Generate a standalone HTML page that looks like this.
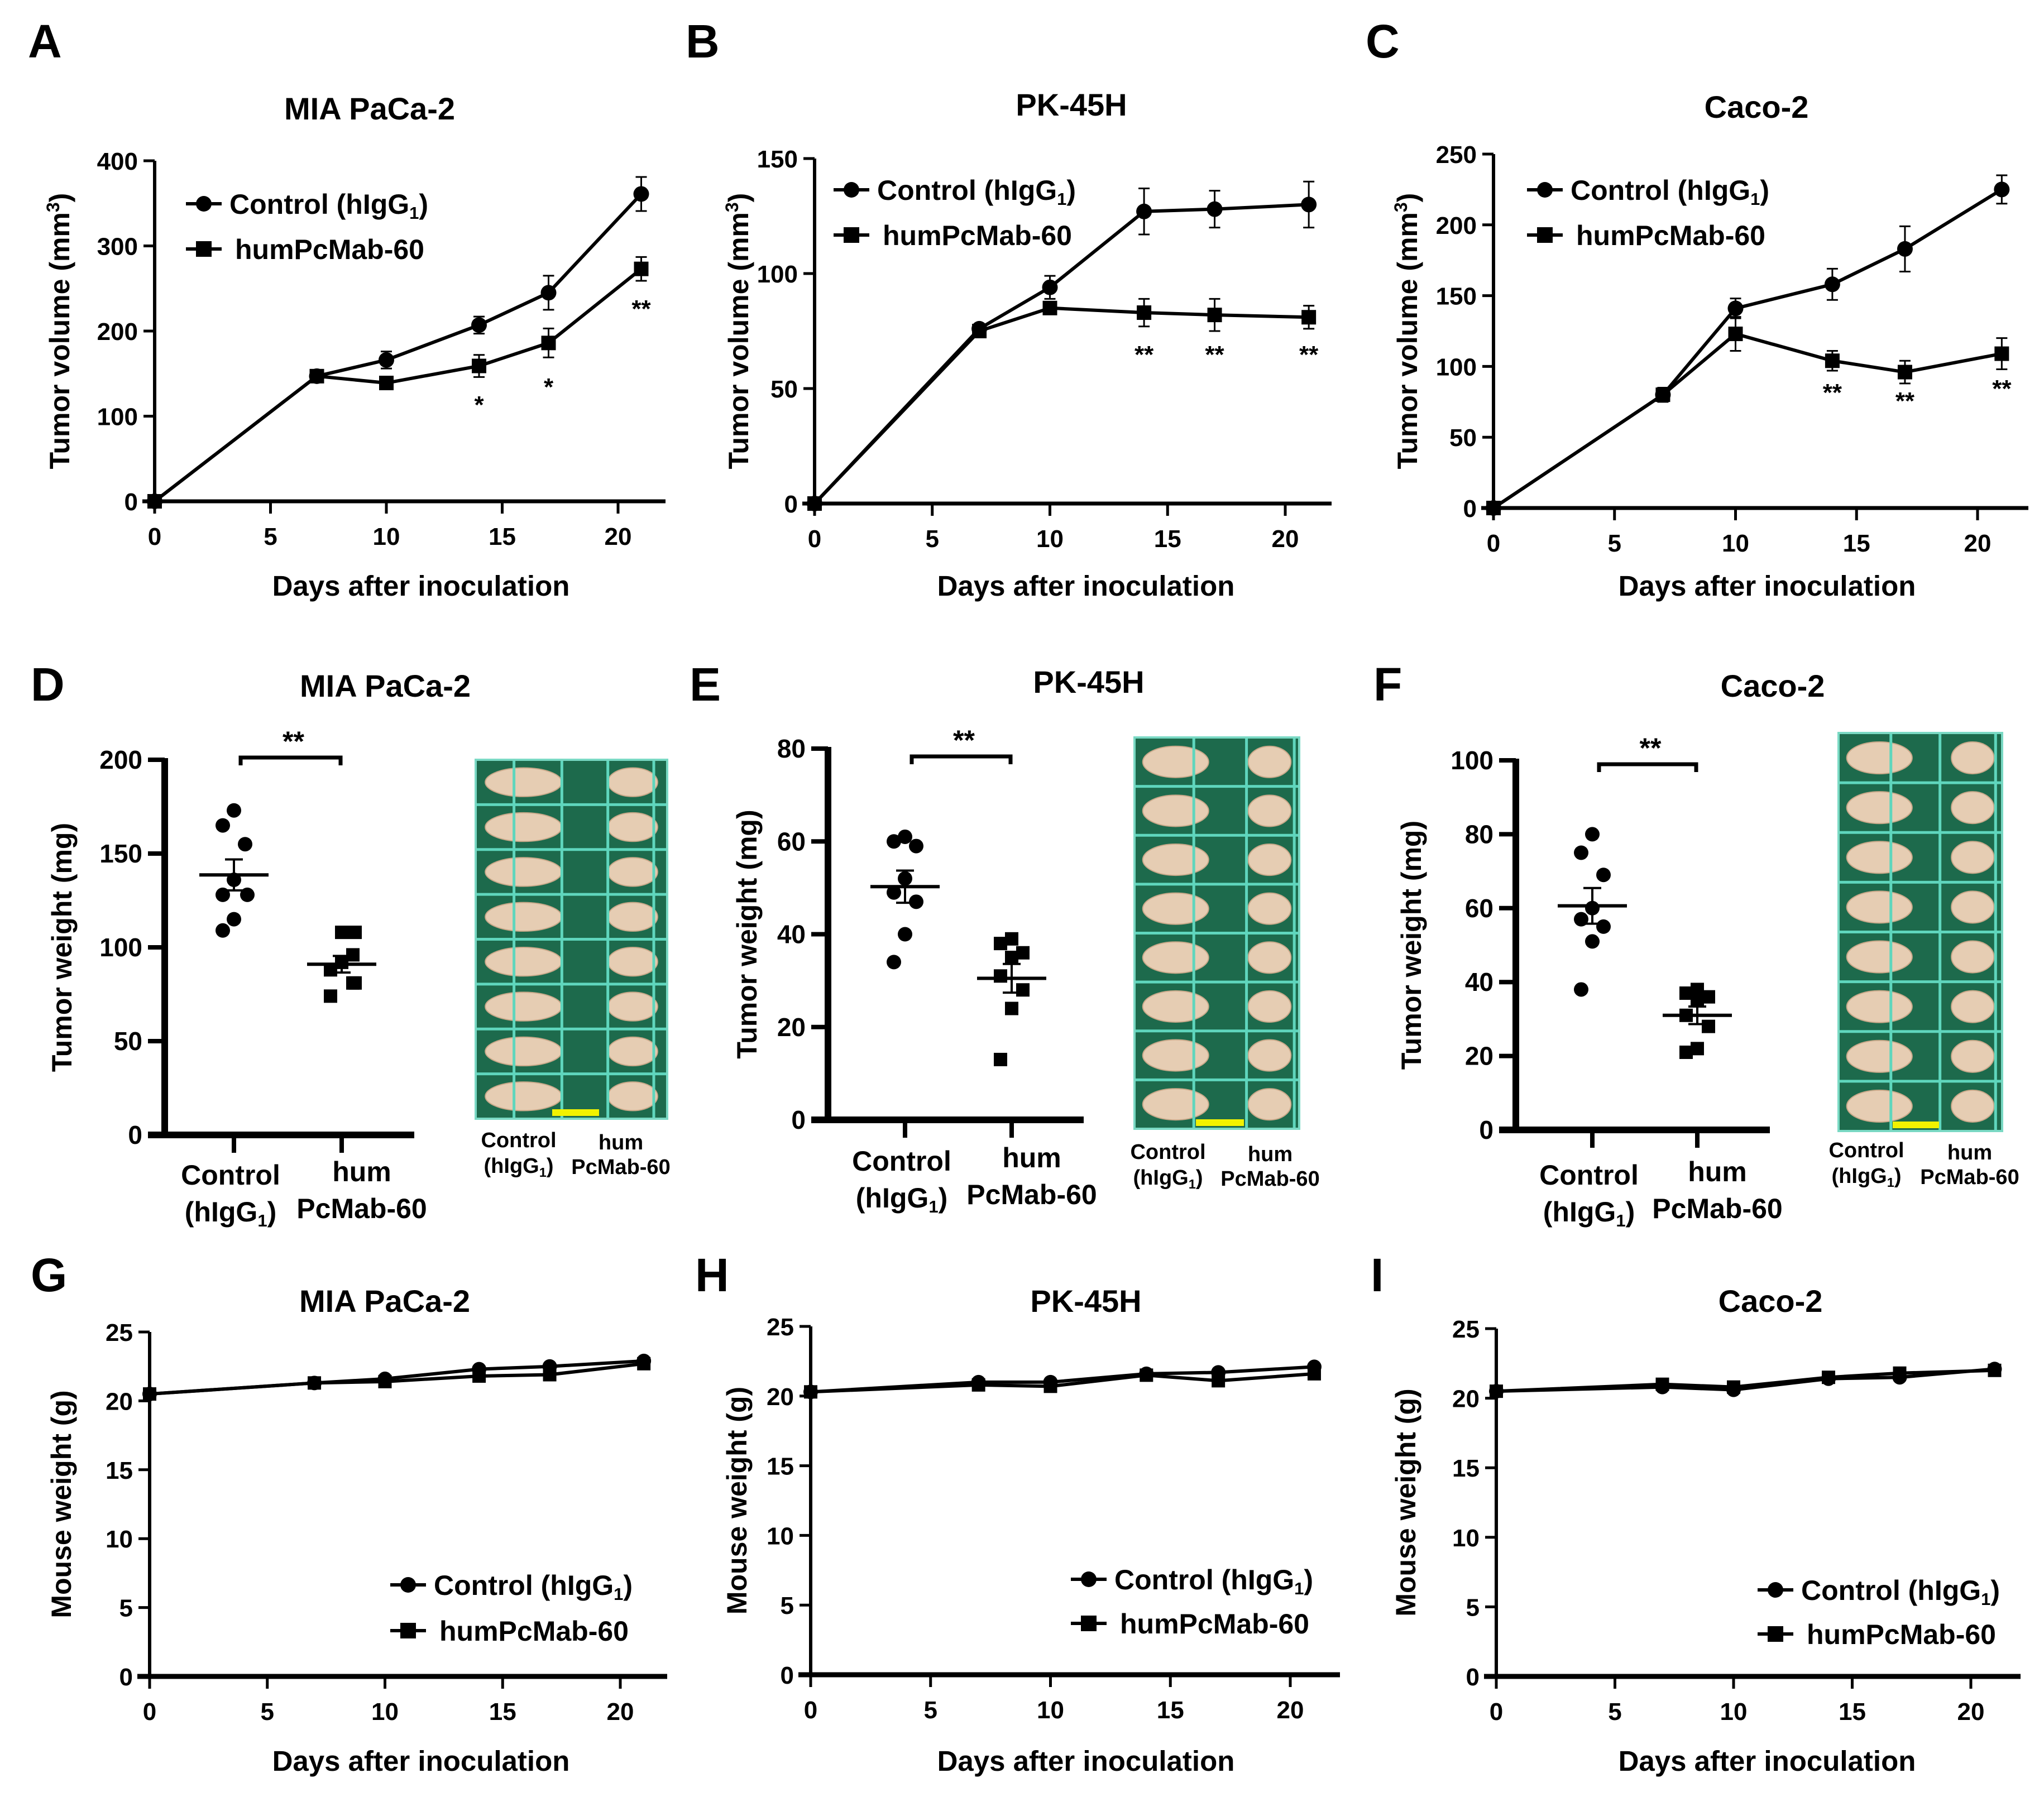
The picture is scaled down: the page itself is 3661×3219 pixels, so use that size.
<!DOCTYPE html>
<html><head><meta charset="utf-8"><style>
html,body{margin:0;padding:0;background:#fff}
svg{display:block;font-family:"Liberation Sans",Arial,sans-serif;font-weight:bold}
</style></head><body>
<svg id="fig" xmlns="http://www.w3.org/2000/svg" width="3661" height="3219" viewBox="0 0 3661 3219"></svg>
<script>
// ---- data ----
const days = [0,7,10,14,17,21];
const xTicks = [0,5,10,15,20];
const aCtrl=[0,147,166,207,245,361], aCtrlErr=[0,5,10,10,20,20];
const aHum=[0,147,139,159,186,273], aHumErr=[0,5,5,13,17,14];
const aTicks=[0,100,200,300,400];
const aStars=['','','','*','*','**'];
const bCtrl=[0,76,94,127,128,130], bCtrlErr=[0,2,5,10,8,10];
const bHum=[0,75,85,83,82,81], bHumErr=[0,2,2,6,7,5];
const bTicks=[0,50,100,150];
const bStars=['','','','**','**','**'];
const cCtrl=[0,80,141,158,183,225], cCtrlErr=[0,5,7,11,16,10];
const cHum=[0,80,123,104,96,109], cHumErr=[0,5,12,7,8,11];
const cTicks=[0,50,100,150,200,250];
const cStars=['','','','**','**','**'];
const gCtrl=[20.5,21.3,21.6,22.3,22.5,22.9], gHum=[20.5,21.3,21.4,21.8,21.9,22.7];
const hCtrl=[20.3,21.0,21.0,21.6,21.7,22.1], hHum=[20.3,20.8,20.7,21.5,21.1,21.6];
const iCtrl=[20.5,20.8,20.6,21.4,21.5,22.1], iHum=[20.5,21.0,20.8,21.5,21.8,22.0];
const wTicks=[0,5,10,15,20,25];
const dCtrl=[173,165,155,136,128,128,115,109], dHum=[108,108,96,92,88,81,81,74];
const eCtrl=[61,60,59,52,49,47,40,34], eHum=[39,38,36,35,31,28,24,13];
const fCtrl=[80,75,69,60,57,55,51,38], fHum=[38,37,36,35,31,28,22,21];
const dTicks=[0,50,100,150,200], eTicks=[0,20,40,60,80], fTicks=[0,20,40,60,80,100];

const NS="http://www.w3.org/2000/svg";
const svg=document.getElementById('fig');
function mk(tag,attrs,parent){const e=document.createElementNS(NS,tag);for(const k in attrs)e.setAttribute(k,attrs[k]);(parent||svg).appendChild(e);return e;}
function txt(s,x,y,size,anchor,parent,name){const t=mk('text',{x:x,y:y,'font-size':size,'text-anchor':anchor||'middle',fill:'#000'},parent);t.textContent=s;


return t;}
function hig(x,y,size,anchor,parent,prefix,suffix,name){const t=mk('text',{x:x,y:y,'font-size':size,'text-anchor':anchor,fill:'#000'},parent);


const a=mk('tspan',{},t);a.textContent=(prefix||'')+'hIgG';const b=mk('tspan',{'font-size':size*0.62,dy:size*0.18},t);b.textContent='1';const c=mk('tspan',{dy:-size*0.18},t);c.textContent=suffix||'';return t;}
function marker(type,x,y,s,g){let m;if(type==='c')m=mk('circle',{cx:x,cy:y,r:s/2,fill:'#000'},g);else m=mk('rect',{x:x-s/2,y:y-s/2,width:s,height:s,fill:'#000'},g);return m;}

function lineChart(o){
  const g=mk('g',{});
  
  
  const X=d=>o.x0+(d-0)*(o.x20-o.x0)/20;
  const Y=v=>o.y0-(v-o.vmin)*(o.y0-o.ytop)/(o.vmax-o.vmin);
  txt(o.letter,o.lx,o.ly,84,'start',g,'panel-letter');
  txt(o.title,o.tx,o.ty,56,'middle',g,'chart-title');
  const ya=mk('line',{x1:o.x0,y1:o.ytop,x2:o.x0,y2:o.y0+3,stroke:'#000','stroke-width':6},g);
  
  const xa=mk('line',{x1:o.x0-22,y1:o.y0,x2:o.xend,y2:o.y0,stroke:'#000','stroke-width':o.xw||7},g);
  
  o.yt.forEach(v=>{mk('line',{x1:o.x0-20,y1:Y(v),x2:o.x0,y2:Y(v),stroke:'#000','stroke-width':5},g);
    txt(String(v),o.x0-30,Y(v)+16,44,'end',g,'y-tick-label');});
  xTicks.forEach(d=>{mk('line',{x1:X(d),y1:o.y0,x2:X(d),y2:o.y0+22,stroke:'#000','stroke-width':5},g);
    txt(String(d),X(d),o.y0+78,44,'middle',g,'x-tick-label');});
  txt('Days after inoculation',o.xtx,o.xty,51,'middle',g,'x-axis-title');
  const yt=mk('text',{x:0,y:0,'font-size':50,'text-anchor':'middle',transform:`translate(${o.ytx},${(o.ytop+o.y0)/2}) rotate(-90)`,fill:'#000'},g);
  
  if(o.mm){const a=mk('tspan',{},yt);a.textContent='Tumor volume (mm';const b=mk('tspan',{'font-size':32,dy:-18},yt);b.textContent='3';const c=mk('tspan',{dy:18},yt);c.textContent=')';}
  else yt.textContent=o.ytitle;
  [[o.hum,o.humErr,'s'],[o.ctrl,o.ctrlErr,'c']].forEach(([vals,err,t])=>{
    const pts=days.map((d,i)=>X(d)+','+Y(vals[i])).join(' ');
    const pl=mk('polyline',{points:pts,fill:'none',stroke:'#000','stroke-width':6,'stroke-linejoin':'round'},g);
    
    days.forEach((d,i)=>{
      if(err&&err[i]>0){const x=X(d);mk('line',{x1:x,y1:Y(vals[i]-err[i]),x2:x,y2:Y(vals[i]+err[i]),stroke:'#000','stroke-width':3},g);
        [vals[i]-err[i],vals[i]+err[i]].forEach(v=>mk('line',{x1:x-10,y1:Y(v),x2:x+10,y2:Y(v),stroke:'#000','stroke-width':3},g));}
      const m=marker(t,X(d),Y(vals[i]),t==='c'?o.ms:o.ms-2,g);
      
      
    });
  });
  if(o.stars)days.forEach((d,i)=>{if(o.stars[i])txt(o.stars[i],X(d),o.starY[i],44,'middle',g,'significance-star');});
  [['c',o.legY[0],'Control ('],['s',o.legY[1],'humPcMab-60']].forEach(([t,y,s])=>{
    const lg=mk('g',{},g);
    mk('line',{x1:o.legX-32,y1:y,x2:o.legX+32,y2:y,stroke:'#000','stroke-width':6},lg);
    marker(t,o.legX,y,28,lg);
    if(t==='c')hig(o.legX+46,y+18,50,'start',lg,'Control (',')','legend-label');
    else txt(s,o.legX+56,y+18,50,'start',lg,'legend-label');
  });
}

lineChart({name:'chart-a',letter:'A',lx:50,ly:103,title:'MIA PaCa-2',tx:662,ty:214,x0:277,x20:1107,xend:1192,y0:898,ytop:288,vmin:0,vmax:400,yt:aTicks,
  ctrl:aCtrl,ctrlErr:aCtrlErr,hum:aHum,humErr:aHumErr,stars:aStars,starY:[0,0,0,740,708,568],legX:365,legY:[365,446],xtx:754,xty:1067,ytx:124,mm:true,ms:28});
lineChart({name:'chart-b',letter:'B',lx:1228,ly:103,title:'PK-45H',tx:1919,ty:207,x0:1459,x20:2302,xend:2385,y0:902,ytop:284,vmin:0,vmax:150,yt:bTicks,
  ctrl:bCtrl,ctrlErr:bCtrlErr,hum:bHum,humErr:bHumErr,stars:bStars,starY:[0,0,0,650,650,650],legX:1525,legY:[340,421],xtx:1945,xty:1067,ytx:1340,mm:true,ms:28});
lineChart({name:'chart-c',letter:'C',lx:2446,ly:103,title:'Caco-2',tx:3146,ty:211,x0:2675,x20:3542,xend:3633,y0:910,ytop:276,vmin:0,vmax:250,yt:cTicks,
  ctrl:cCtrl,ctrlErr:cCtrlErr,hum:cHum,humErr:cHumErr,stars:cStars,starY:[0,0,0,718,733,711],legX:2767,legY:[340,421],xtx:3165,xty:1067,ytx:2538,mm:true,ms:28});
lineChart({name:'chart-g',letter:'G',lx:55,ly:2313,title:'MIA PaCa-2',tx:689,ty:2350,x0:268,x20:1111,xend:1195,y0:3003,ytop:2386,vmin:0,vmax:25,yt:wTicks,
  ctrl:gCtrl,hum:gHum,legX:731,legY:[2839,2921],xtx:754,xty:3172,ytx:127,ytitle:'Mouse weight (g)',ms:26,xw:9});
lineChart({name:'chart-h',letter:'H',lx:1245,ly:2313,title:'PK-45H',tx:1945,ty:2350,x0:1452,x20:2311,xend:2400,y0:3000,ytop:2376,vmin:0,vmax:25,yt:wTicks,
  ctrl:hCtrl,hum:hHum,legX:1950,legY:[2829,2908],xtx:1945,xty:3172,ytx:1337,ytitle:'Mouse weight (g)',ms:26,xw:9});
lineChart({name:'chart-i',letter:'I',lx:2455,ly:2313,title:'Caco-2',tx:3171,ty:2350,x0:2680,x20:3530,xend:3619,y0:3003,ytop:2380,vmin:0,vmax:25,yt:wTicks,
  ctrl:iCtrl,hum:iHum,legX:3180,legY:[2848,2927],xtx:3165,xty:3172,ytx:2535,ytitle:'Mouse weight (g)',ms:26,xw:9});

function dotChart(o){
  const g=mk('g',{});
  
  
  const Y=v=>o.y0-v*(o.y0-o.ytop)/o.vmax;
  txt(o.letter,o.lx,o.ly,84,'start',g,'panel-letter');
  txt(o.title,o.tx,o.ty,56,'middle',g,'chart-title');
  const ya=mk('line',{x1:o.x0,y1:o.ytop-3,x2:o.x0,y2:o.y0,stroke:'#000','stroke-width':12},g);
  
  const xa=mk('line',{x1:o.x0-30,y1:o.y0,x2:o.xend,y2:o.y0,stroke:'#000','stroke-width':12},g);
  
  o.yt.forEach(v=>{mk('line',{x1:o.x0-30,y1:Y(v),x2:o.x0,y2:Y(v),stroke:'#000','stroke-width':8},g);
    txt(String(v),o.x0-40,Y(v)+16,46,'end',g,'y-tick-label');});
  [o.c1,o.c2].forEach(c=>mk('line',{x1:c,y1:o.y0,x2:c,y2:o.y0+32,stroke:'#000','stroke-width':8},g));
  const yt=txt(o.ytitle,0,0,50,'middle',g,'y-axis-title');yt.setAttribute('transform',`translate(${o.ytx},${(o.ytop+o.y0)/2}) rotate(-90)`);
  const br=mk('path',{d:`M${o.c1+12},${o.brY+14} V${o.brY} H${o.c2-2} V${o.brY+14}`,fill:'none',stroke:'#000','stroke-width':7},g);
  
  txt('**',(o.c1+o.c2)/2+10,o.brY-12,50,'middle',g,'significance-star');
  [[o.ctrl,o.c1,'c'],[o.hum,o.c2,'s']].forEach(([vals,cx,t])=>{
    const used={};
    vals.forEach((v,i)=>{const key=Math.round(v);used[key]=(used[key]||0)+1;
      const dx=used[key]>1?((used[key]%2)?-24:24):(i%3===0?0:(i%3===1?-20:20));
      const m=marker(t,cx+dx,Y(v),t==='c'?26:24,g);
      
      });
    const mean=vals.reduce((a,b)=>a+b,0)/vals.length;
    const sd=Math.sqrt(vals.reduce((a,b)=>a+(b-mean)*(b-mean),0)/(vals.length-1));const sem=sd/Math.sqrt(vals.length);
    const ml=mk('line',{x1:cx-62,y1:Y(mean),x2:cx+62,y2:Y(mean),stroke:'#000','stroke-width':6},g);
    
    mk('line',{x1:cx,y1:Y(mean-sem),x2:cx,y2:Y(mean+sem),stroke:'#000','stroke-width':4},g);
    [mean-sem,mean+sem].forEach(v=>mk('line',{x1:cx-16,y1:Y(v),x2:cx+16,y2:Y(v),stroke:'#000','stroke-width':4},g));
  });
  hig(o.c1-6,o.labY+66,50,'middle',g,'(',')','category-label');
  txt('Control',o.c1-6,o.labY,50,'middle',g,'category-label');
  txt('hum',o.c2+36,o.labY-6,50,'middle',g,'category-label');
  txt('PcMab-60',o.c2+36,o.labY+60,50,'middle',g,'category-label');
  const p=o.ph;const pg=mk('g',{},g);
  mk('rect',{x:p.x,y:p.y,width:p.w,height:p.h,fill:'#1d6a4c'},pg);
  const rows=8,rh=p.h/rows;
  for(let r=0;r<rows;r++){
    [[0.25,0.2],[0.82,0.13]].forEach(([fx,fr])=>{
      mk('ellipse',{cx:p.x+p.w*fx,cy:p.y+rh*(r+0.5),rx:p.w*fr,ry:rh*0.32,fill:'#e6cdb3',stroke:'#c9a98a','stroke-width':2},pg);});
  }
  p.vx.forEach(f=>mk('line',{x1:p.x+p.w*f,y1:p.y,x2:p.x+p.w*f,y2:p.y+p.h,stroke:'#5fd6bd','stroke-width':5},pg));
  for(let r=1;r<rows;r++)mk('line',{x1:p.x,y1:p.y+rh*r,x2:p.x+p.w,y2:p.y+rh*r,stroke:'#5fd6bd','stroke-width':5},pg);
  mk('rect',{x:p.x,y:p.y,width:p.w,height:p.h,fill:'none',stroke:'#7ad9c4','stroke-width':4},pg);
  mk('rect',{x:p.yb[0],y:p.y+p.h-17,width:p.yb[1],height:12,fill:'#f2f200'},pg);
  txt('Control',p.l1,p.ly,38,'middle',g,'photo-label');
  hig(p.l1,p.ly+46,38,'middle',g,'(',')','photo-label');
  txt('hum',p.l2,p.ly+4,38,'middle',g,'photo-label');
  txt('PcMab-60',p.l2,p.ly+48,38,'middle',g,'photo-label');
}
dotChart({name:'chart-d',letter:'D',lx:55,ly:1255,title:'MIA PaCa-2',tx:690,ty:1248,x0:295,xend:742,y0:2033,ytop:1361,vmax:200,yt:dTicks,c1:419,c2:612,brY:1357,
  ctrl:dCtrl,hum:dHum,ytitle:'Tumor weight (mg)',ytx:128,labY:2122,
  ph:{x:852,y:1361,w:343,h:643,vx:[0.2,0.45,0.69,0.93],yb:[989,84],l1:929,l2:1112,ly:2055}});
dotChart({name:'chart-e',letter:'E',lx:1235,ly:1255,title:'PK-45H',tx:1950,ty:1241,x0:1483,xend:1941,y0:2006,ytop:1341,vmax:80,yt:eTicks,c1:1621,c2:1812,brY:1355,
  ctrl:eCtrl,hum:eHum,ytitle:'Tumor weight (mg)',ytx:1355,labY:2097,
  ph:{x:2032,y:1321,w:295,h:701,vx:[0.36,0.68,0.97],yb:[2142,86],l1:2092,l2:2275,ly:2076}});
dotChart({name:'chart-f',letter:'F',lx:2460,ly:1255,title:'Caco-2',tx:3175,ty:1248,x0:2715,xend:3170,y0:2024,ytop:1362,vmax:100,yt:fTicks,c1:2852,c2:3040,brY:1369,
  ctrl:fCtrl,hum:fHum,ytitle:'Tumor weight (mg)',ytx:2545,labY:2122,
  ph:{x:3293,y:1313,w:293,h:713,vx:[0.32,0.62,0.96],yb:[3390,83],l1:3343,l2:3528,ly:2073}});
</script>
</body></html>
